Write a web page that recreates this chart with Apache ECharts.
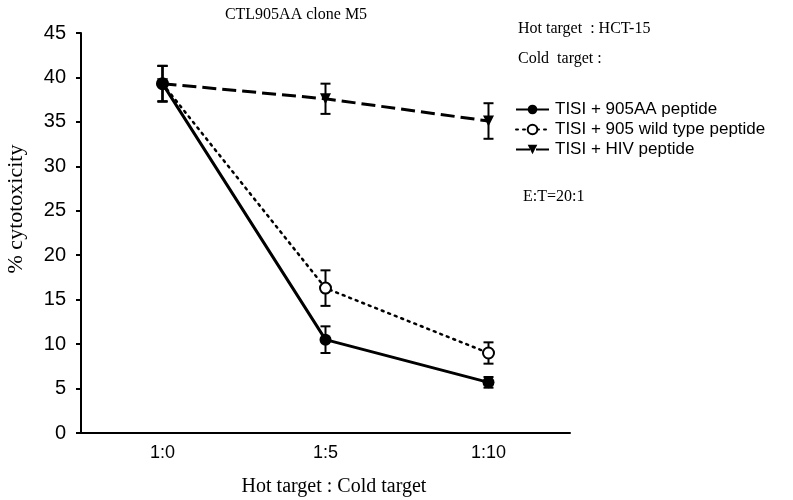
<!DOCTYPE html>
<html><head><meta charset="utf-8">
<script src="https://cdn.jsdelivr.net/npm/echarts@6/dist/echarts.min.js"></script>
<style>html,body{margin:0;padding:0;background:#fff}#c{width:793px;height:500px}</style>
</head><body><div id="c"></div>
<script>
const categories = ['1:0', '1:5', '1:10'];
const yTicks = [0, 5, 10, 15, 20, 25, 30, 35, 40, 45];
const seriesNames = ['TISI + 905AA peptide', 'TISI + 905 wild type peptide', 'TISI + HIV peptide'];
const aaMean = [39.3, 10.5, 5.7];
const aaErr = [2.0, 1.5, 0.6];
const wtMean = [39.3, 16.3, 9.0];
const wtErr = [2.0, 2.0, 1.2];
const hivMean = [39.3, 37.6, 35.1];
const hivErr = [2.0, 1.7, 2.0];

const chart = echarts.init(document.getElementById('c'));
function errData(mean, err) { return mean.map((m, i) => [i, m - err[i], m + err[i]]); }
function errSeries(mean, err) {
  return {
    type: 'custom', silent: true, z: 1,
    data: errData(mean, err),
    renderItem: function (params, api) {
      const x = api.value(0);
      const lo = api.coord([x, api.value(1)]);
      const hi = api.coord([x, api.value(2)]);
      const w = 5;
      const st = { stroke: '#000', lineWidth: 2 };
      return { type: 'group', children: [
        { type: 'line', shape: { x1: lo[0], y1: lo[1], x2: hi[0], y2: hi[1] }, style: st },
        { type: 'line', shape: { x1: lo[0] - w, y1: lo[1], x2: lo[0] + w, y2: lo[1] }, style: st },
        { type: 'line', shape: { x1: hi[0] - w, y1: hi[1], x2: hi[0] + w, y2: hi[1] }, style: st }
      ]};
    }
  };
}
const font = 'Liberation Sans';
const serif = 'Liberation Serif';
chart.setOption({
  animation: false,
  backgroundColor: '#fff',
  grid: { left: 81, right: 223, top: 33, bottom: 67 },
  title: { text: 'CTL905AA clone M5', left: 291, top: 2, textAlign: 'center',
    textStyle: { fontFamily: serif, fontSize: 16, fontWeight: 'normal', color: '#000' } },
  legend: {
    orient: 'vertical', left: 510, top: 96, itemGap: 3, itemWidth: 33, itemHeight: 12,
    data: seriesNames,
    textStyle: { fontFamily: font, fontSize: 17, color: '#000', padding: [0, 0, 0, 1] }
  },
  xAxis: {
    type: 'category', data: categories, boundaryGap: true,
    axisLine: { lineStyle: { color: '#000', width: 2 } },
    axisTick: { alignWithLabel: true, length: 5, lineStyle: { color: '#000', width: 2 } },
    axisLabel: { fontFamily: font, fontSize: 18, color: '#000', margin: 11 },
    splitLine: { show: false }
  },
  yAxis: {
    type: 'value', min: 0, max: 45, interval: 5,
    axisLine: { show: true, lineStyle: { color: '#000', width: 2 } },
    axisTick: { show: true, length: 5, lineStyle: { color: '#000', width: 2 } },
    axisLabel: { fontFamily: font, fontSize: 20, color: '#000', margin: 15,
      formatter: v => yTicks.includes(v) ? String(v) : '' },
    splitLine: { show: false }
  },
  graphic: [
    { type: 'text', left: 518, top: 21, style: { text: 'Hot target  : HCT-15', fontFamily: serif, fontSize: 16, fill: '#000' } },
    { type: 'text', left: 518, top: 51, style: { text: 'Cold  target :', fontFamily: serif, fontSize: 16, fill: '#000' } },
    { type: 'text', left: 523, top: 189, style: { text: 'E:T=20:1', fontFamily: serif, fontSize: 16, fill: '#000' } },
    { type: 'text', x: 334, y: 487, style: { text: 'Hot target : Cold target', fontFamily: serif, fontSize: 20, fill: '#000', align: 'center', verticalAlign: 'middle' } },
    { type: 'text', x: 16, y: 209, rotation: Math.PI / 2, style: { text: '% cytotoxicity', fontFamily: serif, fontSize: 22, fill: '#000', align: 'center', verticalAlign: 'middle' } }
  ],
  series: [
    errSeries(aaMean, aaErr), errSeries(wtMean, wtErr), errSeries(hivMean, hivErr),
    { name: seriesNames[2], type: 'line', data: hivMean, z: 3, symbol: 'triangle', symbolRotate: 180, symbolSize: 11,
      lineStyle: { color: '#000', width: 3, type: [14, 6] }, itemStyle: { color: '#000' } },
    { name: seriesNames[1], type: 'line', data: wtMean, z: 4, symbol: 'circle', symbolSize: 11,
      lineStyle: { color: '#000', width: 2.5, type: [2, 5], cap: 'round' }, itemStyle: { color: '#fff', borderColor: '#000', borderWidth: 2 } },
    { name: seriesNames[0], type: 'line', data: aaMean, z: 5, symbol: 'circle', symbolSize: 12,
      lineStyle: { color: '#000', width: 3 }, itemStyle: { color: '#000' } }
  ]
});
</script></body></html>
